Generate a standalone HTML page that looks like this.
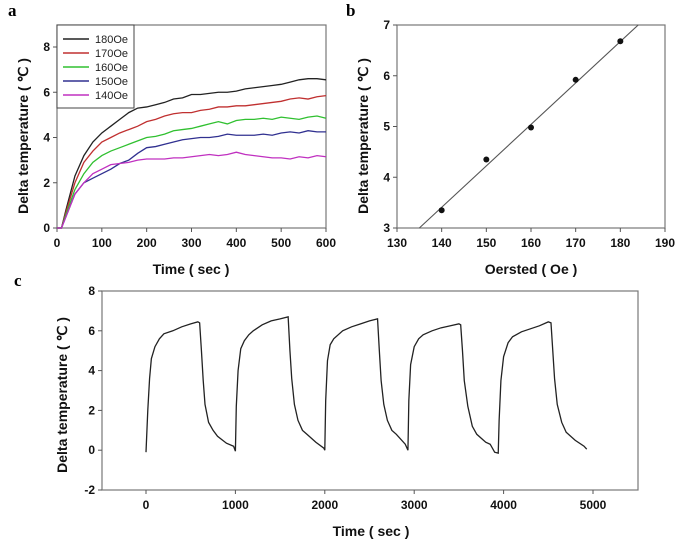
<!DOCTYPE html>
<html><head><meta charset="utf-8"><style>
html,body{margin:0;padding:0;background:#fff;}
svg{display:block;font-family:"Liberation Sans",sans-serif;}
.tk{font-size:12px;font-weight:bold;fill:#111;}
.tt{font-size:14px;font-weight:bold;fill:#111;}
.pl{font-family:"Liberation Serif",serif;font-size:17px;font-weight:bold;}
</style></head><body>
<svg id="s" width="685" height="554" viewBox="0 0 685 554"></svg>
<script>
// Panel a data
const aTimes=[0,10,20,40,60,80,100,120,140,160,180,200,220,240,260,280,300,320,340,360,380,400,420,440,460,480,500,520,540,560,580,600];
const a180=[0,0,0.8,2.3,3.2,3.8,4.2,4.5,4.8,5.1,5.3,5.35,5.45,5.55,5.7,5.75,5.9,5.9,5.95,6.0,6.0,6.05,6.15,6.2,6.25,6.3,6.35,6.45,6.55,6.6,6.6,6.55];
const a170=[0,0,0.7,2.0,2.9,3.4,3.8,4.0,4.2,4.35,4.5,4.7,4.8,4.95,5.05,5.1,5.1,5.2,5.25,5.35,5.35,5.4,5.4,5.45,5.5,5.55,5.6,5.7,5.75,5.7,5.8,5.85];
const a160=[0,0,0.6,1.7,2.4,2.9,3.2,3.4,3.55,3.7,3.85,4.0,4.05,4.15,4.3,4.35,4.4,4.5,4.6,4.7,4.6,4.75,4.8,4.8,4.85,4.8,4.9,4.85,4.8,4.9,4.95,4.85];
const a150=[0,0,0.5,1.5,2.0,2.2,2.4,2.6,2.85,3.0,3.3,3.55,3.6,3.7,3.8,3.9,3.95,4.0,4.0,4.05,4.15,4.1,4.1,4.1,4.15,4.1,4.2,4.25,4.2,4.3,4.25,4.25];
const a140=[0,0,0.5,1.5,2.0,2.4,2.6,2.8,2.85,2.9,3.0,3.05,3.05,3.05,3.1,3.1,3.15,3.2,3.25,3.2,3.25,3.35,3.25,3.2,3.15,3.1,3.1,3.05,3.15,3.1,3.2,3.15];
const aLabels=["180Oe","170Oe","160Oe","150Oe","140Oe"];
const aColors=["#222","#c03030","#30c030","#303090","#c030c0"];
const aXTicks=[0,100,200,300,400,500,600];
const aYTicks=[0,2,4,6,8];
// Panel b data
const bOe=[140,150,160,170,180];
const bDT=[3.35,4.35,4.98,5.92,6.68];
const bFit=[[135,3],[184,7]];
const bXTicks=[130,140,150,160,170,180,190];
const bYTicks=[3,4,5,6,7];
// Panel c data
const cTimes=[0,20,40,60,100,150,200,300,400,500,580,600,620,640,660,700,750,800,900,980,1000,
1010,1030,1060,1100,1150,1200,1300,1400,1500,1590,1610,1630,1660,1700,1750,1800,1900,1990,2000,
2010,2030,2060,2100,2200,2300,2400,2500,2590,2610,2630,2660,2700,2750,2800,2900,2930,
2940,2960,3000,3050,3100,3200,3300,3400,3500,3520,3540,3560,3600,3650,3700,3800,3850,3900,3940,
3950,3970,4000,4050,4100,4200,4300,4400,4500,4530,4550,4570,4600,4650,4700,4800,4900,4930];
const cTemp=[-0.1,2,3.6,4.6,5.2,5.6,5.85,6.0,6.2,6.35,6.45,6.4,5.0,3.5,2.3,1.4,1.0,0.7,0.35,0.2,-0.05,
2.2,4.0,5.1,5.5,5.8,6.0,6.3,6.5,6.6,6.7,5.0,3.6,2.3,1.5,1.0,0.8,0.4,0.1,0.0,
2.5,4.5,5.3,5.6,6.0,6.2,6.35,6.5,6.6,5.0,3.5,2.3,1.5,1.0,0.8,0.3,0.0,
2.5,4.3,5.2,5.6,5.8,6.0,6.15,6.25,6.35,6.3,5.0,3.5,2.2,1.2,0.8,0.4,0.3,-0.1,-0.15,
1.5,3.5,4.7,5.4,5.7,5.95,6.1,6.25,6.45,6.4,5.0,3.6,2.3,1.4,0.9,0.5,0.2,0.05];
const cXTicks=[0,1000,2000,3000,4000,5000];
const cYTicks=[-2,0,2,4,6,8];

const NS="http://www.w3.org/2000/svg";
const svg=document.getElementById('s');
function mk(tag,attrs,parent,txt){const e=document.createElementNS(NS,tag);for(const k in attrs)e.setAttribute(k,attrs[k]);if(txt!==undefined)e.textContent=txt;(parent||svg).appendChild(e);return e;}
function lin(d0,d1,r0,r1){return v=>r0+(v-d0)*(r1-r0)/(d1-d0);}

function axes(g,x0,x1,y0,y1,xs,ys,xt,yt,name){
  const b=mk('rect',{x:x0,y:y0,width:x1-x0,height:y1-y0,fill:'none',stroke:'#777','stroke-width':1.2},g);
  
  xt.forEach(v=>{const X=xs(v);mk('line',{x1:X,x2:X,y1:y1,y2:y1+4,stroke:'#555'},g);
    const t=mk('text',{x:X,y:y1+19,'text-anchor':'middle',class:'tk'},g,v);
    });
  yt.forEach(v=>{const Y=ys(v);mk('line',{x1:x0-4,x2:x0,y1:Y,y2:Y,stroke:'#555'},g);
    const t=mk('text',{x:x0-7,y:Y+4,'text-anchor':'end',class:'tk'},g,v);
    });
}
function ytitle(g,x,y,name){const t=mk('text',{x:x,y:y,transform:`rotate(-90 ${x} ${y})`,'text-anchor':'middle',class:'tt'},g,'Delta temperature ( ℃ )');
  }

// ---- Panel a
const ga=mk('g',{});
const ax=lin(0,600,57,326), ay=lin(0,8,228,47);
axes(ga,57,326,25,228,ax,ay,aXTicks,aYTicks,'panel-a');
[a180,a170,a160,a150,a140].forEach((s,i)=>{
  const p=mk('polyline',{points:s.map((v,j)=>ax(aTimes[j])+','+ay(v)).join(' '),fill:'none',stroke:aColors[i],'stroke-width':1.3},ga);
  });
const lg=mk('g',{},ga);
mk('rect',{x:57,y:25,width:77,height:83,fill:'#fff',stroke:'#444','stroke-width':1},lg);
aLabels.forEach((l,i)=>{const y=39+i*14;
  mk('line',{x1:63,x2:89,y1:y,y2:y,stroke:aColors[i],'stroke-width':1.5},lg);
  const t=mk('text',{x:95,y:y+4,'font-size':11,fill:'#222'},lg,l);
  });
ytitle(ga,28,136,'panel-a');
let t=mk('text',{x:191,y:274,'text-anchor':'middle',class:'tt','font-size':15},ga,'Time ( sec )');
t=mk('text',{x:8,y:16,class:'pl'},ga,'a');

// ---- Panel b
const gb=mk('g',{});
const bx=lin(130,190,397,665), by=lin(3,7,228,25);
axes(gb,397,665,25,228,bx,by,bXTicks,bYTicks,'panel-b');
const fl=mk('line',{x1:bx(bFit[0][0]),y1:by(bFit[0][1]),x2:bx(bFit[1][0]),y2:by(bFit[1][1]),stroke:'#555','stroke-width':1.1},gb);

bOe.forEach((o,i)=>{const c=mk('circle',{cx:bx(o),cy:by(bDT[i]),r:3,fill:'#111'},gb);});
ytitle(gb,368,136,'panel-b');
t=mk('text',{x:531,y:274,'text-anchor':'middle',class:'tt','font-size':15},gb,'Oersted ( Oe )');
t=mk('text',{x:346,y:16,class:'pl'},gb,'b');

// ---- Panel c
const gc=mk('g',{});
const cx=lin(0,5000,146,593), cy=lin(-2,8,490,291);
axes(gc,102,638,291,490,cx,cy,cXTicks,cYTicks,'panel-c');
const cl=mk('polyline',{points:cTemp.map((v,j)=>cx(cTimes[j])+','+cy(v)).join(' '),fill:'none',stroke:'#222','stroke-width':1.3},gc);

ytitle(gc,67,395,'panel-c');
t=mk('text',{x:371,y:536,'text-anchor':'middle',class:'tt','font-size':19},gc,'Time ( sec )');
t=mk('text',{x:14,y:286,class:'pl'},gc,'c');
</script>
</body></html>
